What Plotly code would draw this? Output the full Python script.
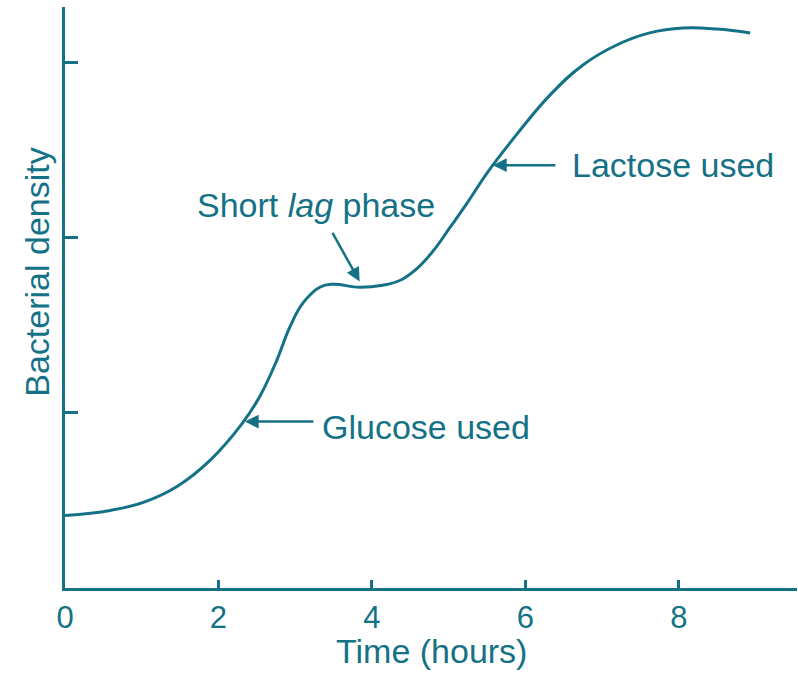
import plotly.graph_objects as go

# Growth curve (diauxic growth): time in hours vs bacterial density (arbitrary units)
hours = [0, 0.59, 1.02, 1.46, 1.89, 2.31, 2.54, 2.76, 2.93, 3.10, 3.32, 3.49, 3.84,
         4.14, 4.37, 4.59, 4.80, 5.02, 5.24, 5.50, 5.89, 6.32, 6.75, 7.19, 7.62,
         8.05, 8.50, 8.93]
density = [0.414, 0.443, 0.489, 0.580, 0.729, 0.940, 1.095, 1.300, 1.489, 1.626, 1.717,
           1.734, 1.717, 1.729, 1.757, 1.825, 1.925, 2.060, 2.197, 2.369, 2.591, 2.814,
           2.986, 3.100, 3.169, 3.197, 3.191, 3.169]

x_ticks = [0, 2, 4, 6, 8]
y_ticks = [1, 2, 3]

TEAL = "#157286"
FONT = "Liberation Sans, Arial, sans-serif"

fig = go.Figure()
fig.add_trace(go.Scatter(
    x=hours, y=density, mode="lines",
    line=dict(color=TEAL, width=3, shape="spline", smoothing=1.2),
    hoverinfo="skip", showlegend=False,
))

# callouts: (label, arrow tip x, tip y, tail offset px, text anchor x, y)
callouts = [
    ("Glucose used", 2.345, 0.95, (70, 0), 3.32, 0.917),
    ("Lactose used", 5.577, 2.414, (64, 0), 6.58, 2.414),
    ("Short <i>lag</i> phase", 3.84, 1.75, (-28, -50), 1.694, 2.186),
]
for label, tx, ty, (ax, ay), lx, ly in callouts:
    fig.add_annotation(x=tx, y=ty, xref="x", yref="y", text="",
                       showarrow=True, ax=ax, ay=ay, axref="pixel", ayref="pixel",
                       arrowhead=2, arrowsize=1.1, arrowwidth=2.5, arrowcolor=TEAL,
                       standoff=0, startstandoff=0)
    fig.add_annotation(x=lx, y=ly, xref="x", yref="y", text=label, showarrow=False,
                       xanchor="left", yanchor="middle",
                       font=dict(family=FONT, size=34, color=TEAL))

# axis titles
fig.add_annotation(x=0, y=1.8, xref="paper", yref="y", xshift=-28,
                   text="Bacterial density", textangle=-90, showarrow=False,
                   xanchor="center", yanchor="middle",
                   font=dict(family=FONT, size=34, color=TEAL))
fig.add_annotation(x=4.77, y=0, xref="x", yref="paper", yshift=-63,
                   text="Time (hours)", showarrow=False,
                   xanchor="center", yanchor="middle",
                   font=dict(family=FONT, size=34, color=TEAL))

fig.update_xaxes(range=[0, 9.54], tickvals=x_ticks, ticktext=[str(v) for v in x_ticks],
                 ticks="inside", ticklen=8, tickwidth=2.5, tickcolor=TEAL,
                 showline=True, linecolor=TEAL, linewidth=3, showgrid=False, zeroline=False,
                 tickfont=dict(family=FONT, size=31, color=TEAL))
fig.update_yaxes(range=[0, 3.317], tickvals=y_ticks, showticklabels=False,
                 ticks="inside", ticklen=13, tickwidth=2.5, tickcolor=TEAL,
                 showline=True, linecolor=TEAL, linewidth=3, showgrid=False, zeroline=False)

fig.update_layout(width=798, height=675, margin=dict(l=65, r=1, t=7, b=87),
                  plot_bgcolor="white", paper_bgcolor="white")

fig.write_html("out.html")
